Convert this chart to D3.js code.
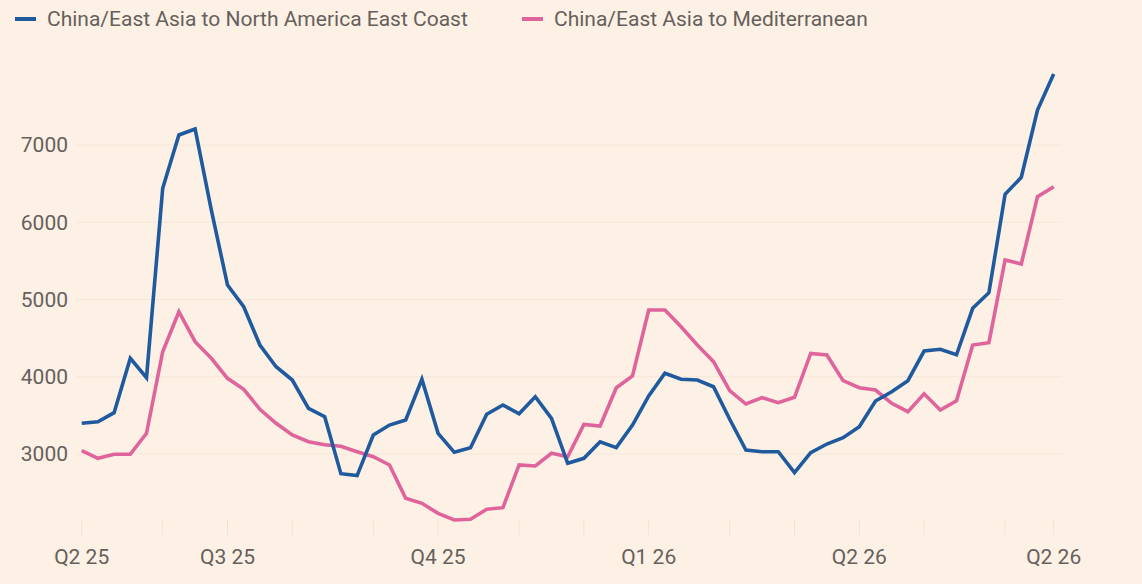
<!DOCTYPE html>
<html>
<head>
<meta charset="utf-8">
<script src="https://cdn.jsdelivr.net/npm/d3@7"></script>
<style>
  body { margin: 0; background: #fdf1e5; }
  svg { display: block; }
  text { font-family: Roboto, "Noto Sans", sans-serif; fill: #66605c; }
</style>
</head>
<body>
<svg id="chart" width="1142" height="584"></svg>
<script>
// weekly readings, one per week
const eastCoast = [3397,3418,3535,4239,3988,6439,7130,7207,6160,5188,4907,4411,4130,3958,3591,3483,2745,2720,3246,3375,3440,3967,3268,3022,3082,3514,3634,3520,3742,3462,2880,2944,3159,3082,3375,3751,4045,3967,3958,3871,3450,3052,3030,3030,2758,3017,3129,3211,3353,3686,3806,3949,4333,4355,4285,4886,5088,6362,6582,7453,7919]
const mediterranean = [3043,2944,2996,2996,3268,4324,4842,4454,4239,3980,3838,3579,3397,3246,3159,3120,3100,3030,2965,2858,2427,2362,2232,2146,2155,2284,2305,2858,2845,3009,2965,3384,3362,3858,4010,4864,4864,4648,4411,4195,3820,3647,3729,3664,3734,4303,4282,3949,3858,3828,3656,3548,3780,3570,3690,4411,4441,5511,5460,6331,6460]

const seriesNames = ["China/East Asia to North America East Coast", "China/East Asia to Mediterranean"]
const seriesColors = ["#1f5a9f", "#e0649c"]

const yTicks = [3000, 4000, 5000, 6000, 7000]
// week index of the first reading of each month
const monthTicks = [0,5,9,13,18,22,27,31,35,40,44,48,52,57,60]
const labelWeeks = [0, 9, 22, 35, 48, 60]
const labelText = ["Q2 25", "Q3 25", "Q4 25", "Q1 26", "Q2 26", "Q2 26"]

const svg = d3.select("#chart")

const x = d3.scaleLinear().domain([0, eastCoast.length - 1]).range([81.7, 1053.7])
const y = d3.scaleLinear().domain([2000, 8000]).range([531.25, 67.75])

// gridlines
svg.append("g")
  .selectAll("line")
  .data(yTicks)
  .join("line")
  .attr("x1", 76)
  .attr("x2", 1062)
  .attr("y1", d => y(d))
  .attr("y2", d => y(d))
  .attr("stroke", "#f6e6d8")
  .attr("stroke-width", 1)

// y labels
svg.append("g")
  .selectAll("text")
  .data(yTicks)
  .join("text")
  .attr("x", 68)
  .attr("y", d => y(d))
  .attr("dy", "0.35em")
  .attr("text-anchor", "end")
  .style("font-size", "21px")
  .text(d => d)

// month ticks along the bottom
svg.append("g")
  .selectAll("line")
  .data(monthTicks)
  .join("line")
  .attr("x1", d => x(d))
  .attr("x2", d => x(d))
  .attr("y1", 520)
  .attr("y2", 535)
  .attr("stroke", "#f3e2d4")
  .attr("stroke-width", 1)

// quarter labels
svg.append("g")
  .selectAll("text")
  .data(labelWeeks)
  .join("text")
  .attr("x", d => x(d))
  .attr("y", 564)
  .attr("text-anchor", "middle")
  .style("font-size", "21px")
  .text((d, i) => labelText[i])

const line = d3.line()
  .x((d, i) => x(i))
  .y(d => y(d))

const allSeries = [eastCoast, mediterranean]

// draw pink first so blue sits on top
svg.append("g")
  .selectAll("path")
  .data([1, 0])
  .join("path")
  .attr("d", k => line(allSeries[k]))
  .attr("fill", "none")
  .attr("stroke", k => seriesColors[k])
  .attr("stroke-width", 3.6)
  .attr("stroke-linejoin", "miter")

// legend
const legendX = [15, 522]
const legend = svg.append("g")
  .selectAll("g")
  .data(seriesNames)
  .join("g")
  .attr("transform", (d, i) => `translate(${legendX[i]},19)`)

legend.append("line")
  .attr("x1", 0)
  .attr("x2", 21)
  .attr("stroke", (d, i) => seriesColors[i])
  .attr("stroke-width", 4)

legend.append("text")
  .attr("x", 32)
  .attr("dy", "0.35em")
  .style("font-size", "21px")
  .text(d => d)
</script>
</body>
</html>
